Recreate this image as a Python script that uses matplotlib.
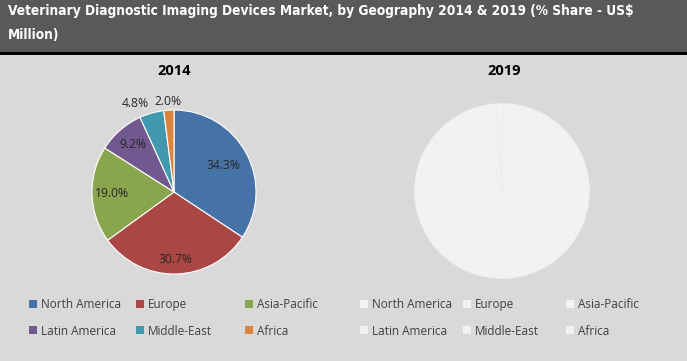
import numpy as np
import matplotlib.pyplot as plt
from matplotlib.patches import Rectangle

regions = ["North America", "Europe", "Asia-Pacific", "Latin America", "Middle-East", "Africa"]
share_2014 = [34.3, 30.7, 19.0, 9.2, 4.8, 2.0]
share_2019 = [33.3, 31.7, 20.0, 10.0, 3.9, 1.1]   # values hidden in the source, slice sizes estimated
colors_2014 = ["#4572a7", "#aa4643", "#89a54e", "#71588f", "#4198af", "#db843d"]
color_2019 = "#f2f2f2"
label_dist = [0.69, 0.82, 0.76, 0.76, 1.12, 1.11]
label_ha = ["center", "center", "center", "center", "right", "center"]

title = "Veterinary Diagnostic Imaging Devices Market, by Geography 2014 & 2019 (% Share - US$\nMillion)"

W, H = 687, 361
fig = plt.figure(figsize=(W / 100, H / 100), dpi=100)
fig.patch.set_facecolor("#d9d9d9")

# title bar
fig.patches.append(Rectangle((0, 1 - 52 / H), 1, 52 / H, transform=fig.transFigure,
                             facecolor="#595959", edgecolor="none", zorder=0))
fig.patches.append(Rectangle((0, 1 - 55 / H), 1, 3 / H, transform=fig.transFigure,
                             facecolor="#000000", edgecolor="none", zorder=0))
fig.text(8 / W, 1 - 4 / H, title, color="white", fontsize=9.8, fontweight="bold",
         family="DejaVu Sans", fontstretch="condensed", va="top", ha="left",
         linespacing=1.95)

font = ["Open Sans", "DejaVu Sans"]


def pie_axes(cx, cy, r):
    return fig.add_axes([(cx - r) / W, 1 - (cy + r) / H, 2 * r / W, 2 * r / H])


# 2014
ax1 = pie_axes(174, 192, 82)
w1, _ = ax1.pie(share_2014, colors=colors_2014, startangle=90, counterclock=False,
                wedgeprops=dict(edgecolor="white", linewidth=0.8))
ax1.set_xlim(-1, 1)
ax1.set_ylim(-1, 1)
for w, v, d, ha in zip(w1, share_2014, label_dist, label_ha):
    a = np.deg2rad((w.theta1 + w.theta2) / 2)
    ax1.text(d * np.cos(a), d * np.sin(a), f"{v:.1f}%", ha=ha, va="center",
             fontsize=8.7, color="#262626", family=font)
fig.text(174 / W, 1 - 71 / H, "2014", ha="center", va="center", fontsize=10.5,
         fontweight="bold", color="black", family=font)

# 2019 (greyed out)
ax2 = pie_axes(502, 191, 87.5)
w2, _ = ax2.pie(share_2019, colors=[color_2019] * 6, startangle=90, counterclock=False,
                wedgeprops=dict(edgecolor="#ededed", linewidth=0.5))
ax2.set_xlim(-1, 1)
ax2.set_ylim(-1, 1)
fig.text(504 / W, 1 - 71 / H, "2019", ha="center", va="center", fontsize=10.5,
         fontweight="bold", color="black", family=font)

# legends, one per column
col_x_left = [29, 136, 245]
col_x_right = [360, 463, 566]
for wedges, xs in [(w1, col_x_left), (w2, col_x_right)]:
    for j, x0 in enumerate(xs):
        leg = fig.legend([wedges[j], wedges[j + 3]], [regions[j], regions[j + 3]],
                         loc="upper left", bbox_to_anchor=(x0 / W, 1 - 298 / H),
                         frameon=False, handlelength=0.65, handleheight=0.65,
                         handletextpad=0.35, labelspacing=1.15, borderpad=0, borderaxespad=0,
                         prop=dict(family=font, size=8.5))
        for t in leg.get_texts():
            t.set_color("#404040")
        for h in leg.legend_handles:
            h.set_edgecolor("none")

fig.savefig("out.png", dpi=100, facecolor=fig.get_facecolor())
